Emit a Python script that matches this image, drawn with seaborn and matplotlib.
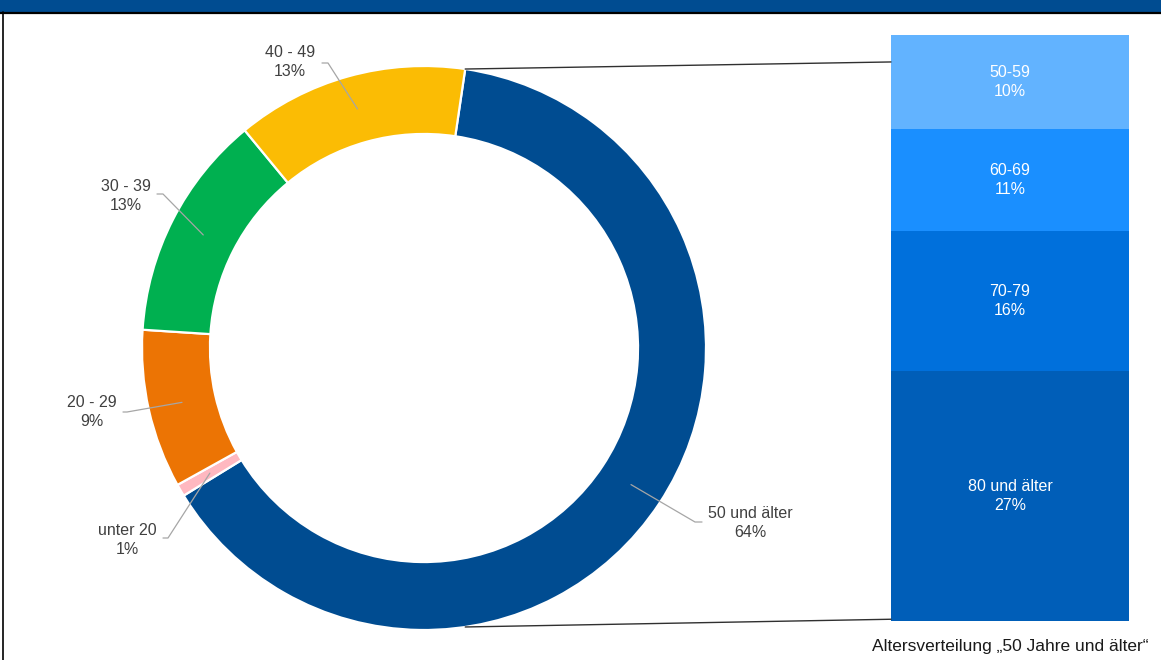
import matplotlib
matplotlib.use("Agg")
import matplotlib.pyplot as plt
import seaborn as sns
import numpy as np
import pandas as pd
from matplotlib.patches import ConnectionPatch, Rectangle
from matplotlib.lines import Line2D

# ---------------- data ----------------
age_groups = ["50 und älter", "unter 20", "20 - 29", "30 - 39", "40 - 49"]
age_shares = [63.9, 0.7, 9.1, 13.0, 13.3]
age_pct_labels = ["64%", "1%", "9%", "13%", "13%"]
age_colors = ["#004C91", "#FFB8C0", "#EC7404", "#00B050", "#FBBC04"]

sub_groups = ["50-59", "60-69", "70-79", "80 und älter"]
sub_shares = [10.3, 11.1, 15.3, 27.3]
sub_pct_labels = ["10%", "11%", "16%", "27%"]
sub_colors = ["#62B3FF", "#1A8FFF", "#0070DC", "#005EB8"]

caption = "Altersverteilung „50 Jahre und älter“"

# ---------------- style ----------------
sns.set_theme(style="white")
plt.rcParams["font.family"] = ["Liberation Sans", "DejaVu Sans"]

W, H = 1161, 660
fig = plt.figure(figsize=(W / 100, H / 100), dpi=100)
fig.patch.set_facecolor("white")

# ---------------- donut ----------------
cx, cy, R = 424, 348, 282
ax = fig.add_axes([(cx - R) / W, (H - cy - R) / H, 2 * R / W, 2 * R / H])
start_angle = 90 - 8.4
ring_width = 0.241
wedges, _ = ax.pie(age_shares, colors=age_colors, startangle=start_angle,
                   counterclock=False, radius=1,
                   wedgeprops=dict(width=ring_width, edgecolor="white", linewidth=1.6))
ax.set_xlim(-1, 1)
ax.set_ylim(-1, 1)
ax.set_aspect("auto")
ax.axis("off")


def px2d(px, py):
    return (px - cx) / R, (cy - py) / R


# label layout (pixel positions): text centre, leader start, leader elbow
label_layout = [
    ((750, 523), (702, 522), (695, 522)),
    ((127, 540), (163, 538), (168, 538)),
    ((92, 412), (123, 412), (127, 412)),
    ((126, 196), (157, 194), (163, 194)),
    ((290, 62), (322, 63), (328, 63)),
]
label_color = "#404040"
leader_color = "#A6A6A6"
mid_r = 1 - ring_width / 2
for w, name, pct, (tpos, lstart, lelbow) in zip(wedges, age_groups, age_pct_labels, label_layout):
    ang = np.deg2rad((w.theta1 + w.theta2) / 2)
    mx, my = mid_r * np.cos(ang), mid_r * np.sin(ang)
    sx, sy = px2d(*lstart)
    ex, ey = px2d(*lelbow)
    ax.add_line(Line2D([sx, ex, mx], [sy, ey, my], color=leader_color, lw=0.9, clip_on=False))
    tx, ty = px2d(*tpos)
    ax.text(tx, ty, f"{name}\n{pct}", ha="center", va="center", fontsize=11.5,
            color=label_color, linespacing=1.3)

# ---------------- stacked bar ----------------
bx0, bx1, by0, by1 = 891, 1129, 35, 621
axb = fig.add_axes([bx0 / W, (H - by1) / H, (bx1 - bx0) / W, (by1 - by0) / H])
tops = [sum(sub_shares[i:]) for i in range(len(sub_shares))]
for i in range(len(sub_shares)):
    df = pd.DataFrame({"x": [0], "y": [tops[i]]})
    sns.barplot(data=df, x="x", y="y", color=sub_colors[i], saturation=1,
                width=1, ax=axb, linewidth=0)
for i, (name, pct) in enumerate(zip(sub_groups, sub_pct_labels)):
    ymid = tops[i] - sub_shares[i] / 2
    axb.text(0, ymid, f"{name}\n{pct}", ha="center", va="center", fontsize=11.5,
             color="white", linespacing=1.3)
axb.set_xlim(-0.5, 0.5)
axb.set_ylim(0, sum(sub_shares))
axb.axis("off")

# ---------------- connector lines ----------------
a_top = np.deg2rad(wedges[0].theta2)
a_bot = -a_top
con1 = ConnectionPatch(xyA=(np.cos(a_top), np.sin(a_top)), coordsA=ax.transData,
                       xyB=(0, 0.954), coordsB=axb.transAxes, color="#303030", lw=1.0)
con2 = ConnectionPatch(xyA=(np.cos(a_bot), np.sin(a_bot)), coordsA=ax.transData,
                       xyB=(0, 0.003), coordsB=axb.transAxes, color="#303030", lw=1.0)
fig.add_artist(con1)
fig.add_artist(con2)

# ---------------- caption ----------------
fig.text(1148 / W, 1 - 646 / H, caption, ha="right", va="center", fontsize=12.5,
         color="#1A1A1A")

# ---------------- frame / header ----------------
fig.add_artist(Rectangle((0, 1 - 11.5 / H), 1, 11.5 / H, transform=fig.transFigure,
                         facecolor="#004C91", edgecolor="none"))
fig.add_artist(Line2D([0, 1], [1 - 12.5 / H] * 2, transform=fig.transFigure,
                      color="black", lw=1.6))
fig.add_artist(Line2D([2.5 / W] * 2, [0, 1 - 12 / H], transform=fig.transFigure,
                      color="black", lw=1.2))

fig.savefig("out.png", dpi=100)
